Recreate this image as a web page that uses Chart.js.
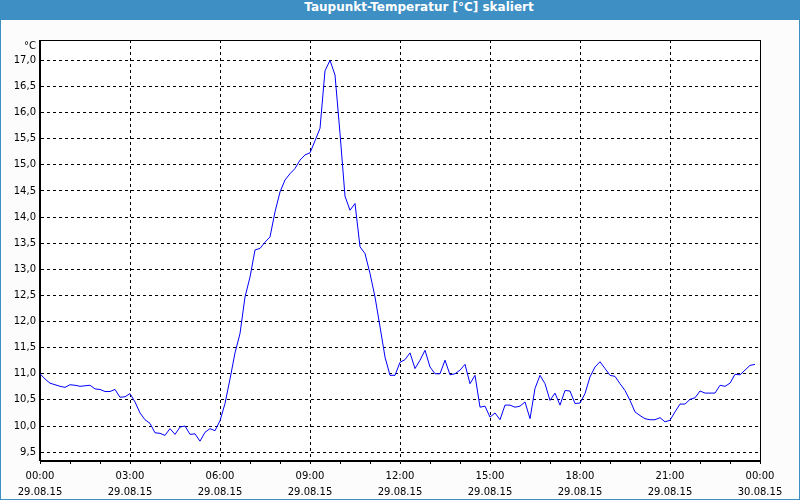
<!DOCTYPE html>
<html>
<head>
<meta charset="utf-8">
<script src="https://cdn.jsdelivr.net/npm/chart.js@4.4.0/dist/chart.umd.min.js"></script>
<style>
  body { margin: 0; background: #fff; }
  #frame { position: relative; width: 800px; height: 500px; background: #3d8fc4; }
  #titlebar { position: absolute; left: 0; top: 0; width: 800px; height: 20px; line-height: 20px;
    color: #fff; font: bold 12px "DejaVu Sans", sans-serif; text-align: center; text-indent: 38px; }
  #plot { position: absolute; left: 1px; top: 20px; width: 798px; height: 479px; background: #fbfcfb; }
</style>
</head>
<body>
<div id="frame">
  <div id="titlebar">Taupunkt-Temperatur [°C] skaliert</div>
  <div id="plot"><canvas id="dewChart" width="798" height="479"></canvas></div>
</div>
<script>
// Taupunkt, 10-Minuten-Werte ab 29.08.15 00:00
const sampleMinutes = 10;
const dewPoint = [
  11.00, 10.90, 10.82, 10.79, 10.76, 10.74, 10.79, 10.78, 10.76, 10.77, 10.78, 10.71,
  10.70, 10.66, 10.66, 10.70, 10.55, 10.56, 10.62, 10.46, 10.25, 10.12, 10.05, 9.87,
  9.86, 9.82, 9.95, 9.84, 9.98, 10.00, 9.84, 9.85, 9.71, 9.88, 9.95, 9.91,
  10.10, 10.43, 10.90, 11.40, 11.77, 12.47, 12.85, 13.37, 13.40, 13.52, 13.62, 14.10,
  14.48, 14.71, 14.83, 14.93, 15.09, 15.19, 15.23, 15.46, 15.70, 16.80, 17.00, 16.72,
  15.60, 14.40, 14.13, 14.26, 13.43, 13.30, 12.92, 12.47, 11.90, 11.32, 10.97, 10.97,
  11.22, 11.27, 11.40, 11.10, 11.26, 11.45, 11.13, 11.00, 11.00, 11.26, 10.98, 11.00,
  11.07, 11.18, 10.81, 10.97, 10.36, 10.38, 10.17, 10.25, 10.12, 10.40, 10.40, 10.36,
  10.38, 10.46, 10.14, 10.72, 10.97, 10.81, 10.49, 10.63, 10.40, 10.68, 10.67, 10.43,
  10.44, 10.62, 10.94, 11.13, 11.23, 11.10, 10.97, 10.95, 10.81, 10.68, 10.49, 10.27,
  10.20, 10.14, 10.12, 10.12, 10.16, 10.08, 10.11, 10.27, 10.42, 10.42, 10.51, 10.54,
  10.67, 10.63, 10.63, 10.63, 10.78, 10.76, 10.82, 10.99, 10.98, 11.07, 11.16, 11.18
];
const timeLabels = ['00:00', '03:00', '06:00', '09:00', '12:00', '15:00', '18:00', '21:00', '00:00'];
const dateLabels = ['29.08.15', '29.08.15', '29.08.15', '29.08.15', '29.08.15', '29.08.15', '29.08.15', '29.08.15', '30.08.15'];
const unitLabel = '°C';

const points = dewPoint.map((v, i) => ({ x: i * sampleMinutes, y: v }));
const tickFont = { family: 'DejaVu Sans', size: 10, lineHeight: 1.65 };

const framePlugin = {
  id: 'frame',
  beforeDraw(chart) {
    const { ctx, chartArea: a } = chart;
    ctx.save();
    ctx.fillStyle = '#ffffff';
    ctx.fillRect(a.left, a.top, a.right - a.left, a.bottom - a.top);
    ctx.restore();
  },
  afterDraw(chart) {
    const { ctx, chartArea: a } = chart;
    ctx.save();
    ctx.strokeStyle = '#000';
    ctx.lineWidth = 1;
    ctx.strokeRect(Math.round(a.left) - 0.5, Math.round(a.top) + 0.5,
      Math.round(a.right - a.left) + 1, Math.round(a.bottom - a.top) - 1);
    ctx.fillStyle = '#000';
    ctx.font = '10px "DejaVu Sans"';
    ctx.textAlign = 'right';
    ctx.textBaseline = 'middle';
    ctx.fillText(unitLabel, a.left - 4, a.top + 6);
    ctx.restore();
  }
};

new Chart(document.getElementById('dewChart'), {
  type: 'line',
  data: {
    datasets: [{
      data: points,
      borderColor: '#0000ff',
      borderWidth: 1,
      pointRadius: 0,
      tension: 0,
      fill: false
    }]
  },
  options: {
    responsive: false,
    animation: false,
    devicePixelRatio: 1,
    layout: { padding: { left: 0, top: 20, right: 39, bottom: 0 } },
    plugins: { legend: { display: false }, tooltip: { enabled: false } },
    scales: {
      x: {
        type: 'linear',
        min: 0,
        max: 1440,
        afterFit: s => { s.height = 38; },
        border: { display: true, color: '#000', width: 1, dash: [3, 3] },
        grid: {
          color: c => (c.tick && c.tick.value % 180 === 0) ? '#000' : 'rgba(0,0,0,0)',
          tickColor: '#000',
          tickLength: 3,
          lineWidth: 1
        },
        ticks: {
          stepSize: 60,
          autoSkip: false,
          maxRotation: 0,
          padding: 4,
          color: '#000',
          font: tickFont,
          callback: v => v % 180 === 0 ? [timeLabels[v / 180], dateLabels[v / 180]] : ''
        }
      },
      y: {
        min: 9.33,
        max: 17.39,
        afterFit: s => { s.width = 39; },
        border: { display: true, color: '#000', width: 1, dash: [3, 3] },
        grid: { color: '#000', lineWidth: 1, drawTicks: false },
        ticks: {
          stepSize: 0.5,
          includeBounds: false,
          padding: 4,
          color: '#000',
          font: { family: 'DejaVu Sans', size: 10 },
          callback: v => v.toFixed(1).replace('.', ',')
        }
      }
    }
  },
  plugins: [framePlugin]
});
</script>
</body>
</html>
